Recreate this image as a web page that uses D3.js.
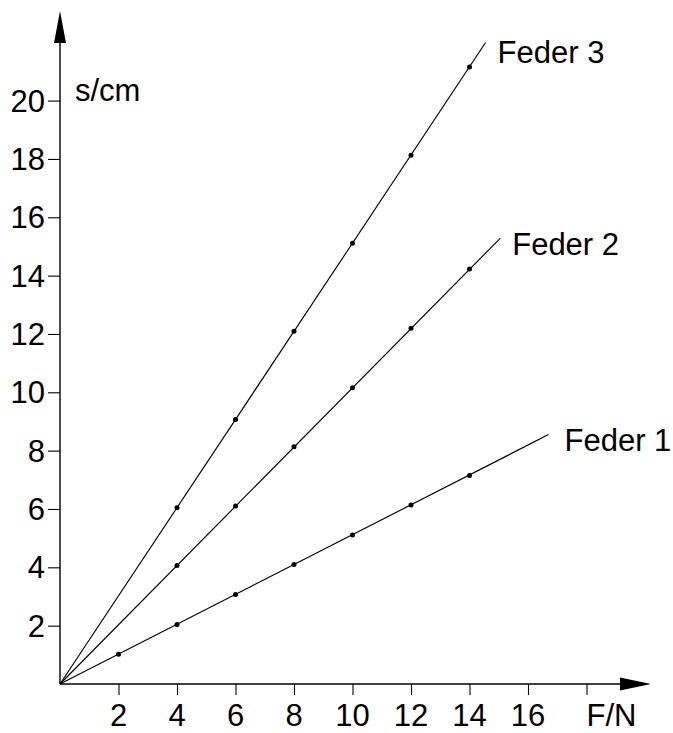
<!DOCTYPE html>
<html>
<head>
<meta charset="utf-8">
<script src="https://cdn.jsdelivr.net/npm/d3@7"></script>
<style>
  html, body { margin: 0; padding: 0; background: #fff; }
  svg { display: block; }
  text { font-family: "Liberation Sans", Arial, sans-serif; fill: #000; }
</style>
</head>
<body>
<svg id="chart" width="673" height="733"></svg>
<script>
// Measured extension s (cm) against force F (N) for three springs
const forces = [2, 4, 6, 8, 10, 12, 14];
const feder1 = [1.02, 2.04, 3.07, 4.10, 5.11, 6.14, 7.15];
const feder2 = [null, 4.06, 6.10, 8.13, 10.16, 12.20, 14.23];
const feder3 = [null, 6.04, 9.07, 12.09, 15.11, 18.13, 21.15];
const seriesNames = ["Feder 1", "Feder 2", "Feder 3"];
// Where each fitted line through the origin ends
const lineEndF = [16.7, 15.05, 14.55];
const lineEndS = [8.55, 15.28, 21.99];

const xTicks = [2, 4, 6, 8, 10, 12, 14, 16, 18];
const xTickLabels = ["2", "4", "6", "8", "10", "12", "14", "16", "F/N"];
const yTicks = [2, 4, 6, 8, 10, 12, 14, 16, 18, 20];
const yTitle = "s/cm";

const svg = d3.select("#chart");
const ox = 60, oy = 684;
const x = d3.scaleLinear().domain([0, 20]).range([ox, ox + 20 * 29.25]);
const y = d3.scaleLinear().domain([0, 20]).range([oy, oy - 20 * 29.17]);
const fs = 31;

// Axes
const xAxis = d3.axisBottom(x).tickValues(xTicks).tickSize(11).tickFormat(() => "");
const gx = svg.append("g").attr("transform", `translate(0,${oy})`).call(xAxis);
gx.select(".domain").remove();
gx.selectAll(".tick line").attr("stroke", "#000").attr("stroke-width", 1.1);

const yAxis = d3.axisLeft(y).tickValues(yTicks).tickSize(12).tickFormat(() => "");
const gy = svg.append("g").attr("transform", `translate(${ox},0)`).call(yAxis);
gy.select(".domain").remove();
gy.selectAll(".tick line").attr("stroke", "#000").attr("stroke-width", 1.1);

// Axis lines with arrowheads
svg.append("line").attr("x1", ox).attr("y1", oy).attr("x2", 622).attr("y2", oy)
  .attr("stroke", "#000").attr("stroke-width", 1.4);
svg.append("path").attr("d", `M620,${oy - 6.5}L651,${oy}L620,${oy + 6.5}Z`).attr("fill", "#000");
svg.append("line").attr("x1", ox).attr("y1", oy).attr("x2", ox).attr("y2", 40)
  .attr("stroke", "#000").attr("stroke-width", 1.4);
svg.append("path").attr("d", `M${ox - 6},43L${ox},11L${ox + 6},43Z`).attr("fill", "#000");

// Tick labels
svg.append("g").selectAll("text").data(xTicks).join("text")
  .attr("x", d => x(d))
  .attr("y", 726)
  .attr("text-anchor", (d, i) => i === xTicks.length - 1 ? "start" : "middle")
  .attr("font-size", fs)
  .text((d, i) => xTickLabels[i]);

svg.append("g").selectAll("text").data(yTicks).join("text")
  .attr("x", 45)
  .attr("y", d => y(d) + 11)
  .attr("text-anchor", "end")
  .attr("font-size", fs)
  .text(d => d);

svg.append("text").attr("x", 75).attr("y", 101).attr("font-size", fs).text(yTitle);

// Lines and measured points
const allSeries = [feder1, feder2, feder3];
const labelOffsets = [[16, 16], [12, 17], [12, 20]];
allSeries.forEach((vals, k) => {
  svg.append("line")
    .attr("x1", x(0)).attr("y1", y(0))
    .attr("x2", x(lineEndF[k])).attr("y2", y(lineEndS[k]))
    .attr("stroke", "#000").attr("stroke-width", 1.15);
  const pts = forces.map((f, i) => ({ f, s: vals[i] })).filter(p => p.s !== null);
  svg.append("g").selectAll("circle").data(pts).join("circle")
    .attr("cx", p => x(p.f)).attr("cy", p => y(p.s)).attr("r", 2.5).attr("fill", "#000");
  svg.append("text")
    .attr("x", x(lineEndF[k]) + labelOffsets[k][0])
    .attr("y", y(lineEndS[k]) + labelOffsets[k][1])
    .attr("font-size", fs)
    .text(seriesNames[k]);
});
</script>
</body>
</html>
